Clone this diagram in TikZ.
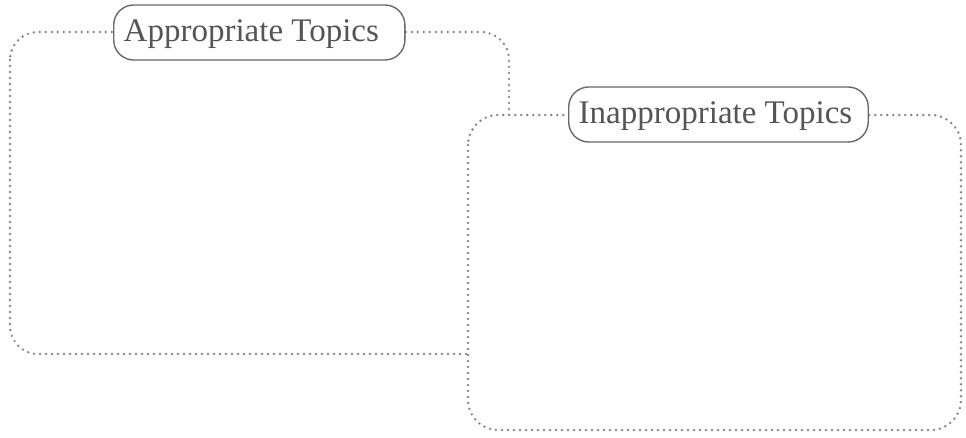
\documentclass[tikz,border=0pt]{standalone}
\usepackage{fontspec}
\setmainfont{Liberation Serif}
\definecolor{dotgray}{RGB}{135,135,135}
\definecolor{boxgray}{RGB}{105,105,105}
\definecolor{txtgray}{RGB}{85,85,85}
\tikzset{
  dotbox/.style={draw=dotgray, line width=2.7pt, dash pattern=on 0pt off 6pt, line cap=round, rounded corners=28pt},
  labelbox/.style={draw=boxgray, line width=1.4pt, fill=white, rounded corners=20pt, minimum height=55pt, inner xsep=10pt, inner ysep=0pt, text height=24pt, text depth=6pt, text=txtgray, font=\fontsize{33}{38}\selectfont, anchor=west}
}
\begin{document}
\begin{tikzpicture}[x=1pt,y=-1pt]
\useasboundingbox (0,0) rectangle (966,438);
% left box
\draw[dotbox] (10,32) rectangle (509,354);
\node[labelbox] (appr) at (113,32.5) {Appropriate Topics\hspace*{16pt}};
% right box
\draw[dotbox, fill=white, rounded corners=30pt] (468,115) rectangle (961,430);
\node[labelbox] (inappr) at (568,114.5) {Inappropriate Topics\hspace*{6pt}};
\end{tikzpicture}
\end{document}
